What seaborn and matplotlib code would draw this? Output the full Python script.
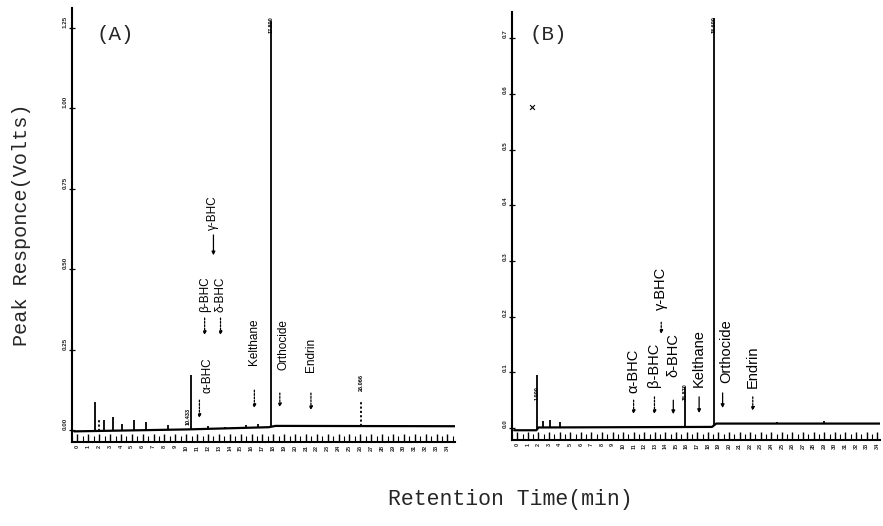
import matplotlib
matplotlib.use("Agg")
import matplotlib.pyplot as plt
import seaborn as sns
import numpy as np

sns.set_theme(style="white")
plt.rcParams['font.family'] = ['Liberation Sans', 'DejaVu Sans']

# ---------------- data ----------------
time_ticks = list(range(0, 35))
time_ticklabels = [str(t) for t in time_ticks]

a_yticks = [0.00, 0.25, 0.50, 0.75, 1.00, 1.25]
a_yticklabels = ["0.00", "0.25", "0.50", "0.75", "1.00", "1.25"]
b_yticks = [0.0, 0.1, 0.2, 0.3, 0.4, 0.5, 0.6, 0.7]
b_yticklabels = ["0.0", "0.1", "0.2", "0.3", "0.4", "0.5", "0.6", "0.7"]

# baseline of each chromatogram (retention time min, volts)
a_base_t = [-0.3, 10.0, 17.6, 18.2, 34.7]
a_base_v = [-0.004, 0.002, 0.009, 0.013, 0.012]
b_base_t = [-0.3, 1.8, 2.0, 18.4, 18.8, 34.3]
b_base_v = [-0.004, -0.004, 0.001, 0.002, 0.008, 0.008]

# peaks (retention time, apex height)
a_peak_rt = [1.64, 1.95, 2.45, 3.30, 4.10, 5.20, 6.30, 8.30, 10.433, 12.0, 13.6,
             15.5, 16.6, 17.80, 26.066, 27.4, 30.2]
a_peak_h = [0.087, 0.035, 0.030, 0.040, 0.020, 0.030, 0.025, 0.015, 0.170, 0.012,
            0.010, 0.015, 0.020, 1.270, 0.087, 0.012, 0.014]
a_peak_dotted = [False, True, False, False, False, False, False, False, False, False,
                 False, False, False, False, True, False, False]
a_labeled_peaks = [10.433, 17.80, 26.066]

b_peak_rt = [1.90, 2.40, 3.10, 4.00, 15.87, 18.60, 24.5, 29.0]
b_peak_h = [0.095, 0.012, 0.014, 0.010, 0.074, 0.736, 0.010, 0.012]
b_peak_dotted = [False] * 8
b_labeled_peaks = [1.90, 15.87, 18.60]

stray_t = [1.4]
stray_v = [0.576]

compounds = ["α-BHC", "β-BHC", "γ-BHC", "δ-BHC", "Kelthane", "Orthocide", "Endrin"]
a_comp_rt = [11.96, 11.69, 12.50, 13.15, 16.26, 18.90, 21.46]
b_comp_rt = [10.99, 12.96, 13.60, 14.74, 17.18, 19.70, 22.25]

# ---------------- layout ----------------
a_text_y = [0.115, 0.366, 0.621, 0.366, 0.202, 0.186, 0.180]
a_arrow = [(0.093, 0.037), (0.348, 0.295), (0.606, 0.543), (0.348, 0.295),
           (0.124, 0.068), (0.115, 0.071), (0.115, 0.062)]
a_arrow_dx = [-0.75, 0, 0, 0, 0, -0.3, 0]
a_arrow_dot = [True, True, False, True, True, True, True]

b_text_y = [0.063, 0.074, 0.212, 0.092, 0.074, 0.081, 0.072]
b_arrow = [(0.050, 0.025), (0.056, 0.025), (0.190, 0.169), (0.050, 0.025),
           (0.056, 0.027), (0.063, 0.036), (0.056, 0.031)]
b_arrow_dx = [0, 0, 0, 0, 0, -0.3, 0]
b_arrow_dot = [True, True, True, False, False, False, True]

W, H = 883, 526
fig = plt.figure(figsize=(W / 100, H / 100), dpi=100)
fig.patch.set_facecolor("white")
axA = fig.add_axes([72 / W, (H - 442) / H, 383 / W, 434 / H])
axB = fig.add_axes([512 / W, (H - 440) / H, 368 / W, 428 / H])


def setup(ax, xlim, ylim, yticks, yticklabels):
    ax.set_facecolor("white")
    ax.set_xlim(*xlim)
    ax.set_ylim(*ylim)
    for s in ["top", "right"]:
        ax.spines[s].set_visible(False)
    for s in ["left", "bottom"]:
        ax.spines[s].set_color("black")
        ax.spines[s].set_linewidth(1.5)
    ax.set_xticks(time_ticks)
    ax.set_xticklabels(time_ticklabels)
    ax.set_xticks(np.arange(xlim[0] // 1 + 0.5, xlim[1], 0.5), minor=True)
    ax.tick_params(axis="x", which="major", direction="in", length=6, width=1.0,
                   color="black", labelsize=4, labelrotation=90, pad=2, bottom=True)
    ax.tick_params(axis="x", which="minor", direction="in", length=4, width=0.8,
                   color="black", bottom=True)
    ax.set_yticks(yticks)
    ax.set_yticklabels(yticklabels)
    ax.tick_params(axis="y", direction="inout", length=4, width=0.9, color="black",
                   labelsize=4.5, labelrotation=90, pad=1, left=True)
    for lab in ax.get_yticklabels():
        lab.set_va("bottom")
    for lab in ax.get_xticklabels() + ax.get_yticklabels():
        lab.set_fontweight("bold")
    ax.grid(False)
    ax.set_xlabel("")
    ax.set_ylabel("")


setup(axA, (-0.27, 34.7), (-0.037, 1.311), a_yticks, a_yticklabels)
setup(axB, (-0.28, 34.27), (-0.0215, 0.747), b_yticks, b_yticklabels)


def draw(ax, base_t, base_v, rts, hs, dotted, labeled, comp_rt, text_y, arrows,
         arrow_dx, arrow_dot, fs, peak_lab_pos):
    sns.lineplot(x=base_t, y=base_v, ax=ax, color="black", linewidth=1.6)
    base_at = np.interp(rts, base_t, base_v)
    for rt, b, h, d in zip(rts, base_at, hs, dotted):
        ax.vlines(rt, b, h, colors="black", linewidth=1.3,
                  linestyles=(0, (1.2, 1.2)) if d else "solid")
    for rt, (ly, ha) in zip(labeled, peak_lab_pos):
        ax.text(rt, ly, f"{rt:.3f}", rotation=90, fontsize=4, ha=ha, va="top",
                color="black", fontweight="bold")
    for name, x, ty, (at, ab), dx, dot in zip(compounds, comp_rt, text_y, arrows,
                                             arrow_dx, arrow_dot):
        ax.text(x, ty, name, rotation=90, fontsize=fs, ha="center", va="bottom",
                color="black")
        ax.annotate("", xy=(x + dx, ab), xytext=(x + dx, at),
                    arrowprops=dict(arrowstyle="-|>", color="black", lw=0.9,
                                    ls=(0, (1.5, 1.2)) if dot else "solid",
                                    mutation_scale=5, shrinkA=0, shrinkB=0))


draw(axA, a_base_t, a_base_v, a_peak_rt, a_peak_h, a_peak_dotted, a_labeled_peaks,
     a_comp_rt, a_text_y, a_arrow, a_arrow_dx, a_arrow_dot, 8.5,
     [(0.068, "right"), (1.285, "center"), (0.175, "center")])
draw(axB, b_base_t, b_base_v, b_peak_rt, b_peak_h, b_peak_dotted, b_labeled_peaks,
     b_comp_rt, b_text_y, b_arrow, b_arrow_dx, b_arrow_dot, 10.5,
     [(0.075, "center"), (0.08, "center"), (0.740, "center")])

sns.scatterplot(x=stray_t, y=stray_v, ax=axB, marker="x", s=12, color="black",
                linewidth=0.8)

mono = ["Liberation Mono", "DejaVu Sans Mono"]
fig.text(115 / W, (H - 35) / H, "(A)", family=mono, fontsize=15, ha="center",
         va="center")
fig.text(548 / W, (H - 35) / H, "(B)", family=mono, fontsize=15, ha="center",
         va="center")
fig.text(22 / W, (H - 225) / H, "Peak Responce(Volts)", family=mono, fontsize=14.5,
         rotation=90, ha="center", va="center")
fig.text(510 / W, (H - 500) / H, "Retention Time(min)", family=mono, fontsize=15.5,
         ha="center", va="center")

fig.savefig("out.png", dpi=100, facecolor="white")
